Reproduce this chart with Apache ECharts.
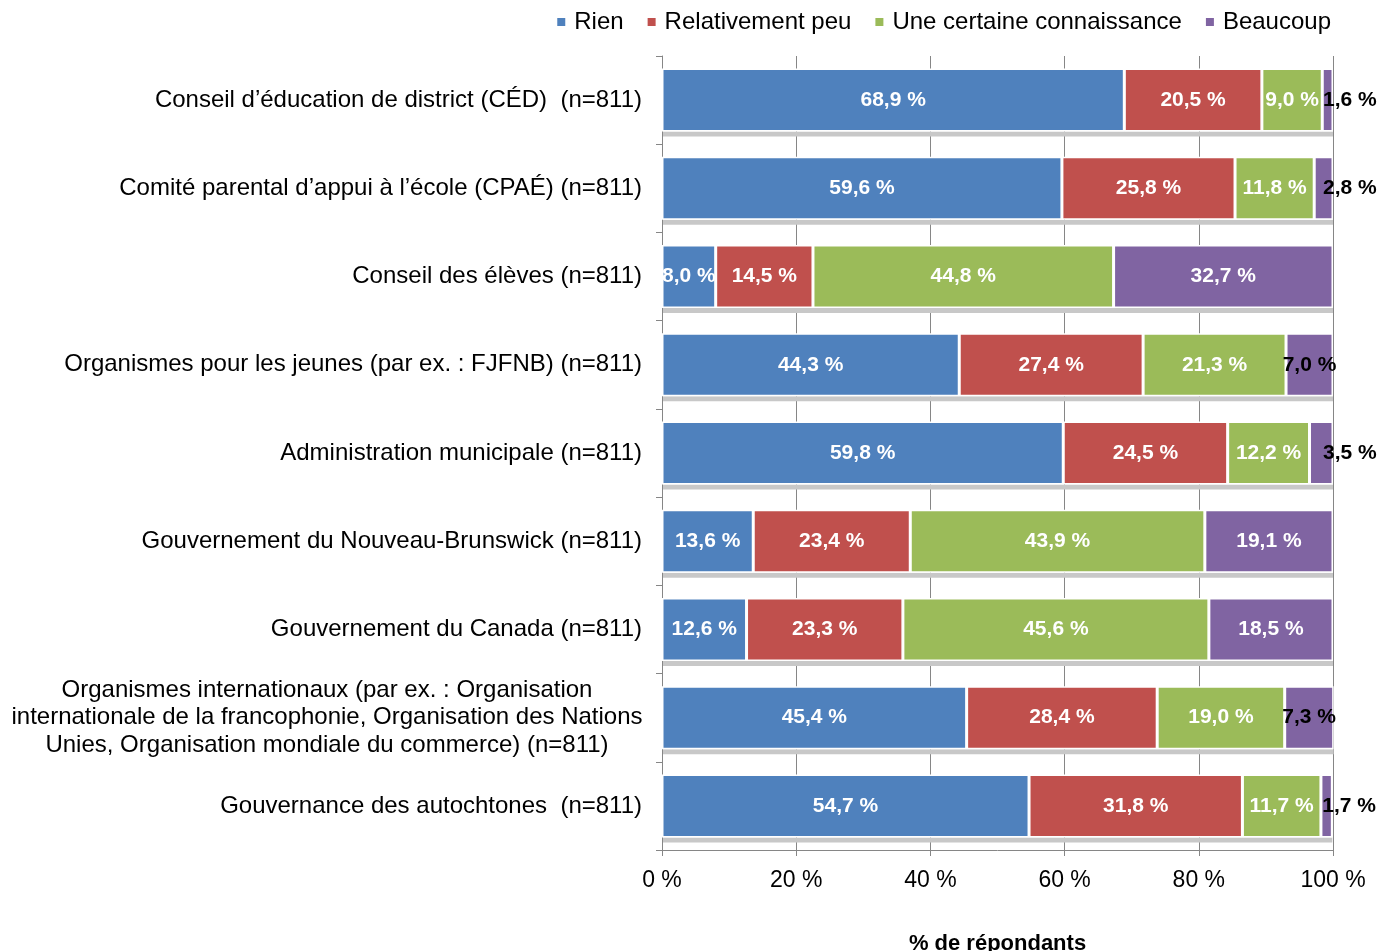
<!DOCTYPE html>
<html>
<head>
<meta charset="utf-8">
<script src="https://cdn.jsdelivr.net/npm/echarts@6/dist/echarts.min.js"></script>
<style>
  html, body { margin: 0; padding: 0; background: #fff; }
  #chart { width: 1391px; height: 951px; }
</style>
</head>
<body>
<div id="chart"></div>
<script>
// Organisations, top to bottom
const categories = [
  'Conseil d’éducation de district (CÉD)  (n=811)',
  'Comité parental d’appui à l’école (CPAÉ) (n=811)',
  'Conseil des élèves (n=811)',
  'Organismes pour les jeunes (par ex. : FJFNB) (n=811)',
  'Administration municipale (n=811)',
  'Gouvernement du Nouveau-Brunswick (n=811)',
  'Gouvernement du Canada (n=811)',
  'Organismes internationaux (par ex. : Organisation\ninternationale de la francophonie, Organisation des Nations\nUnies, Organisation mondiale du commerce) (n=811)',
  'Gouvernance des autochtones  (n=811)'
];

// Share of respondents (%) per knowledge level
const rien = [68.9, 59.6, 8.0, 44.3, 59.8, 13.6, 12.6, 45.4, 54.7];
const relativementPeu = [20.5, 25.8, 14.5, 27.4, 24.5, 23.4, 23.3, 28.4, 31.8];
const certaineConnaissance = [9.0, 11.8, 44.8, 21.3, 12.2, 43.9, 45.6, 19.0, 11.7];
const beaucoup = [1.6, 2.8, 32.7, 7.0, 3.5, 19.1, 18.5, 7.3, 1.7];

const xTicks = [0, 20, 40, 60, 80, 100];

const seriesNames = ['Rien', 'Relativement peu', 'Une certaine connaissance', 'Beaucoup'];
const seriesValues = [rien, relativementPeu, certaineConnaissance, beaucoup];
const colors = ['#4F81BD', '#C0504D', '#9BBB59', '#8064A2'];

const FONT = '"Liberation Sans", Arial, sans-serif';
const BAR_H = 63;
const fmt = v => v.toFixed(1).replace('.', ',') + ' %';

// row totals, used for the drop shadow strip under each stacked bar
const rowTotals = categories.map((_, i) => seriesValues.reduce((s, arr) => s + arr[i], 0));

function buildData(values, idx) {
  return values.map(v => {
    const item = { value: v };
    if (idx === 3 && v < 8) {
      // narrow purple segments: dark label, pushed past the bar end when tiny
      item.label = v < 5
        ? { color: '#000', position: 'right', distance: -10 }
        : { color: '#000' };
    }
    return item;
  });
}

const chart = echarts.init(document.getElementById('chart'));

const series = seriesNames.map((name, i) => ({
  name,
  type: 'bar',
  stack: 'total',
  barWidth: BAR_H,
  data: buildData(seriesValues[i], i),
  itemStyle: {
    color: colors[i],
    borderColor: '#fff',
    borderWidth: 1.5
  },
  label: {
    show: true,
    position: 'inside',
    formatter: p => fmt(p.value),
    color: '#fff',
    fontFamily: FONT,
    fontWeight: 'bold',
    fontSize: 21
  },
  emphasis: { disabled: true }
}));

// grey strip beneath each bar
series.unshift({
  name: 'ombre',
  type: 'custom',
  silent: true,
  z: 1,
  data: rowTotals.map((t, i) => [t, i]),
  renderItem: (params, api) => {
    const idx = api.value(1);
    const a = api.coord([0, idx]);
    const b = api.coord([api.value(0), idx]);
    return {
      type: 'rect',
      shape: { x: a[0] + 1, y: a[1] + BAR_H / 2, width: b[0] - a[0] - 1, height: 5 },
      style: { fill: '#c8c8c8' }
    };
  }
});

const yData = categories.map(c => {
  if (c.indexOf('\n') >= 0) {
    // centre the wrapped lines while keeping the block flush right
    return {
      value: c,
      textStyle: { align: 'center', padding: [4, 630, 0, 0], lineHeight: 27.5 }
    };
  }
  return c;
});

chart.setOption({
  animation: false,
  backgroundColor: '#fff',
  color: colors,
  legend: {
    data: seriesNames,
    right: 55,
    top: 5,
    itemWidth: 10,
    itemHeight: 10,
    itemGap: 22,
    icon: 'rect',
    textStyle: { fontFamily: FONT, fontSize: 24, color: '#000', padding: [0, 0, 0, 3] }
  },
  grid: { left: 662, right: 58, top: 56, bottom: 101, containLabel: false, outerBoundsMode: 'none' },
  xAxis: {
    type: 'value',
    min: xTicks[0],
    max: xTicks[xTicks.length - 1],
    interval: 20,
    name: '% de répondants',
    nameLocation: 'middle',
    nameGap: 83,
    nameTextStyle: { fontFamily: FONT, fontSize: 22, fontWeight: 'bold', color: '#000' },
    axisLine: { show: true, lineStyle: { color: '#868686', width: 1 } },
    axisTick: { show: true, length: 6, lineStyle: { color: '#868686' } },
    axisLabel: {
      fontFamily: FONT, fontSize: 23, color: '#000', margin: 19,
      formatter: v => v + ' %'
    },
    splitLine: { show: true, lineStyle: { color: '#868686', width: 1 } }
  },
  yAxis: {
    type: 'category',
    inverse: true,
    data: yData,
    axisLine: { show: true, lineStyle: { color: '#868686', width: 1 } },
    axisTick: { show: true, length: 6, lineStyle: { color: '#868686' } },
    axisLabel: {
      fontFamily: FONT, fontSize: 24, color: '#000', margin: 20
    }
  },
  series
});
</script>
</body>
</html>
